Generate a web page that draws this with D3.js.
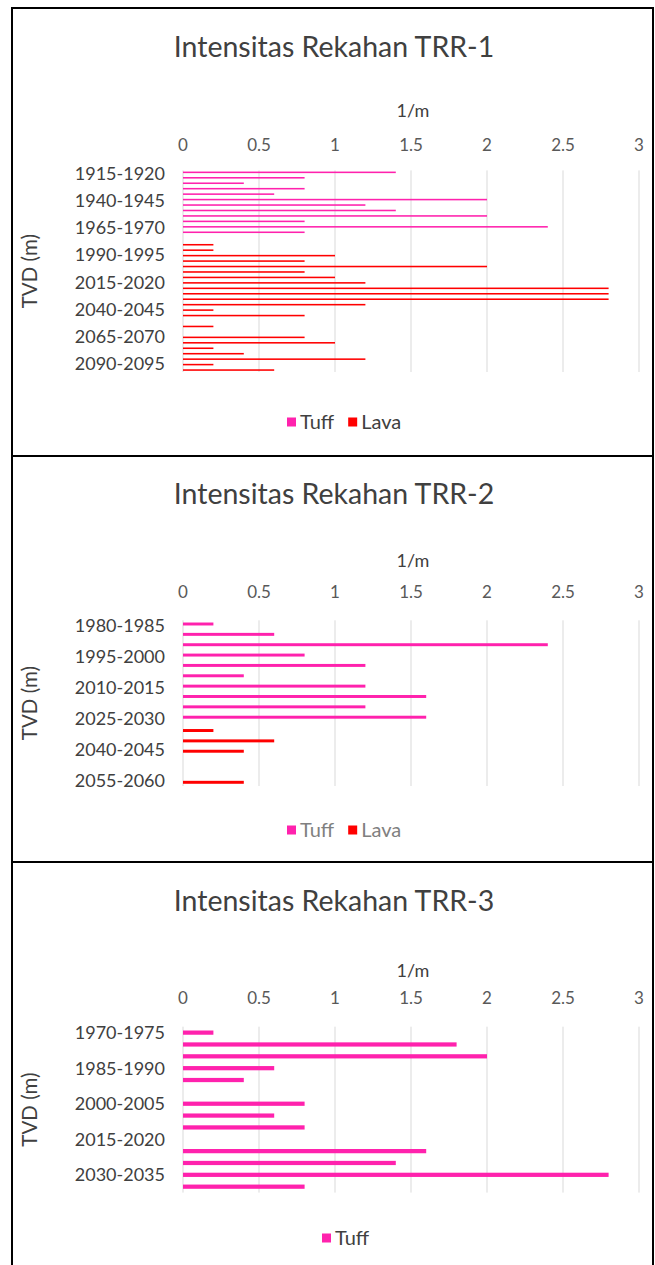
<!DOCTYPE html>
<html>
<head>
<meta charset="utf-8">
<script src="https://cdn.jsdelivr.net/npm/d3@7"></script>
<style>
  body { margin: 0; background: #fff; }
  svg { display: block; font-family: Lato, 'Open Sans', sans-serif; }
</style>
</head>
<body>
<svg id="chart" width="655" height="1265"></svg>
<script>
// TRR-1 data (5 m intervals)
const trr1Categories = [
    '1915-1920', '1920-1925', '1925-1930', '1930-1935', '1935-1940',
    '1940-1945', '1945-1950', '1950-1955', '1955-1960', '1960-1965',
    '1965-1970', '1970-1975', '1975-1980', '1980-1985', '1985-1990',
    '1990-1995', '1995-2000', '2000-2005', '2005-2010', '2010-2015',
    '2015-2020', '2020-2025', '2025-2030', '2030-2035', '2035-2040',
    '2040-2045', '2045-2050', '2050-2055', '2055-2060', '2060-2065',
    '2065-2070', '2070-2075', '2075-2080', '2080-2085', '2085-2090',
    '2090-2095', '2095-2100'
];
const trr1Tuff = [1.4, 0.8, 0.4, 0.8, 0.6, 2.0, 1.2, 1.4, 2.0, 0.8, 2.4, 0.8, 0,
    0, 0, 0, 0, 0, 0, 0, 0, 0, 0, 0, 0, 0, 0, 0, 0, 0, 0, 0, 0, 0, 0, 0, 0];
const trr1Lava = [0, 0, 0, 0, 0, 0, 0, 0, 0, 0, 0, 0, 0,
    0.2, 0.2, 1.0, 0.8, 2.0, 0.8, 1.0, 1.2, 2.8, 2.8, 2.8, 1.2, 0.2,
    0.8, 0, 0.2, 0, 0.8, 1.0, 0.2, 0.4, 1.2, 0.2, 0.6];

// TRR-2 data
const trr2Categories = [
    '1980-1985', '1985-1990', '1990-1995', '1995-2000', '2000-2005',
    '2005-2010', '2010-2015', '2015-2020', '2020-2025', '2025-2030',
    '2030-2035', '2035-2040', '2040-2045', '2045-2050', '2050-2055',
    '2055-2060'
];
const trr2Tuff = [0.2, 0.6, 2.4, 0.8, 1.2, 0.4, 1.2, 1.6, 1.2, 1.6, 0, 0, 0, 0, 0, 0];
const trr2Lava = [0, 0, 0, 0, 0, 0, 0, 0, 0, 0, 0.2, 0.6, 0.4, 0, 0, 0.4];

// TRR-3 data
const trr3Categories = [
    '1970-1975', '1975-1980', '1980-1985', '1985-1990', '1990-1995',
    '1995-2000', '2000-2005', '2005-2010', '2010-2015', '2015-2020',
    '2020-2025', '2025-2030', '2030-2035', '2035-2040'
];
const trr3Tuff = [0.2, 1.8, 2.0, 0.6, 0.4, 0, 0.8, 0.6, 0.8, 0, 1.6, 1.4, 2.8, 0.8];

const xTicks = [0, 0.5, 1, 1.5, 2, 2.5, 3];
const colors = { Tuff: '#ff22ad', Lava: '#ff0000' };

const svg = d3.select('#chart');

const x = d3.scaleLinear().domain([0, 3]).range([183, 639]);

function drawPanel(p) {
    const g = svg.append('g');

    // panel frame
    g.append('rect')
        .attr('x', 12).attr('y', p.top)
        .attr('width', 641).attr('height', p.bottom - p.top)
        .attr('fill', 'none').attr('stroke', '#000').attr('stroke-width', 2);

    // title
    g.append('text')
        .attr('x', 334).attr('y', p.titleY)
        .attr('text-anchor', 'middle')
        .style('font-size', '28.5px').style('fill', '#404040')
        .text(p.title);

    // axis title
    g.append('text')
        .attr('x', 413).attr('y', p.unitY)
        .attr('text-anchor', 'middle')
        .style('font-size', '18px').style('fill', '#404040')
        .text('1/m');

    // x tick labels
    g.append('g').selectAll('text')
        .data(xTicks)
        .join('text')
        .attr('x', d => x(d)).attr('y', p.tickY)
        .attr('text-anchor', 'middle')
        .style('font-size', '17px').style('fill', '#595959')
        .text(d => d);

    const y = d3.scaleBand()
        .domain(p.categories)
        .range(p.yRange)
        .paddingInner(0).paddingOuter(0);

    // gridlines
    g.append('g').selectAll('line')
        .data(xTicks)
        .join('line')
        .attr('x1', d => x(d)).attr('x2', d => x(d))
        .attr('y1', p.yRange[0]).attr('y2', p.yRange[1])
        .attr('stroke', '#d9d9d9').attr('stroke-width', 1);

    const seriesNames = p.series.map(s => s.name);
    const ySub = d3.scaleBand()
        .domain(seriesNames)
        .range([0, y.bandwidth()])
        .paddingInner(0).paddingOuter(p.subPad);

    // bars
    p.series.forEach(s => {
        g.append('g').selectAll('rect')
            .data(p.categories.map((c, i) => ({ c, v: s.values[i] })).filter(d => d.v > 0))
            .join('rect')
            .attr('x', x(0))
            .attr('y', d => y(d.c) + ySub(s.name))
            .attr('width', d => x(d.v) - x(0))
            .attr('height', ySub.bandwidth())
            .attr('fill', colors[s.name]);
    });

    // category labels
    g.append('g').selectAll('text')
        .data(p.categories.filter((c, i) => i % p.labelEvery === 0))
        .join('text')
        .attr('x', 165)
        .attr('y', d => y(d) + y.bandwidth() / 2)
        .attr('dy', '0.36em')
        .attr('text-anchor', 'end')
        .style('font-size', '18px').style('fill', '#404040')
        .text(d => d);

    // y axis title
    const midY = (p.yRange[0] + p.yRange[1]) / 2;
    g.append('text')
        .attr('transform', `translate(37, ${midY}) rotate(-90)`)
        .attr('text-anchor', 'middle')
        .style('font-size', '20.5px').style('fill', '#404040')
        .text('TVD (m)');

    // legend
    const legend = g.append('g');
    let lx = p.legendX;
    p.series.forEach(s => {
        legend.append('rect')
            .attr('x', lx).attr('y', p.legendY - 4.5)
            .attr('width', 9).attr('height', 9)
            .attr('fill', colors[s.name]);
        const t = legend.append('text')
            .attr('x', lx + 13).attr('y', p.legendY)
            .attr('dy', '0.36em')
            .style('font-size', '20px').style('fill', p.legendColor)
            .text(s.name);
        lx += 13 + t.node().getComputedTextLength() + 14;
    });
}

drawPanel({
    top: 8, bottom: 456, title: 'Intensitas Rekahan TRR-1',
    titleY: 57, unitY: 117, tickY: 151,
    categories: trr1Categories, yRange: [170.4, 372], labelEvery: 5,
    series: [{ name: 'Tuff', values: trr1Tuff }, { name: 'Lava', values: trr1Lava }],
    subPad: 0.75, legendX: 287, legendY: 422, legendColor: '#404040'
});

drawPanel({
    top: 456, bottom: 862, title: 'Intensitas Rekahan TRR-2',
    titleY: 504, unitY: 567, tickY: 598,
    categories: trr2Categories, yRange: [620.3, 786], labelEvery: 3,
    series: [{ name: 'Tuff', values: trr2Tuff }, { name: 'Lava', values: trr2Lava }],
    subPad: 0.75, legendX: 287, legendY: 830, legendColor: '#808080'
});

drawPanel({
    top: 862, bottom: 1275, title: 'Intensitas Rekahan TRR-3',
    titleY: 911, unitY: 977, tickY: 1004,
    categories: trr3Categories, yRange: [1026.7, 1192.6], labelEvery: 3,
    series: [{ name: 'Tuff', values: trr3Tuff }],
    subPad: 0.9, legendX: 322, legendY: 1238, legendColor: '#404040'
});
</script>
</body>
</html>
